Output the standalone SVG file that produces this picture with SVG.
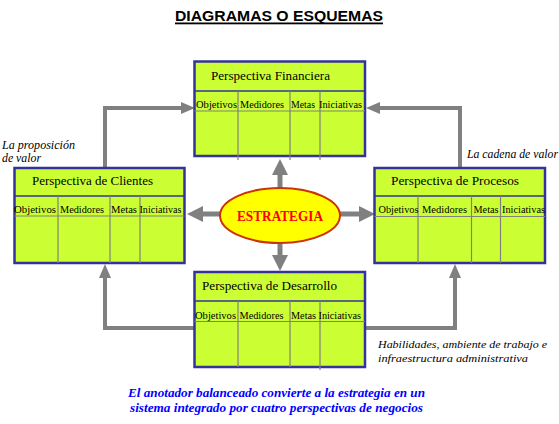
<svg xmlns="http://www.w3.org/2000/svg" width="559" height="424" viewBox="0 0 559 424">
<defs>
<style>
.box{fill:#CCFF33;stroke:#333399;stroke-width:2.5}
.hdr{stroke:#333399;stroke-width:1.5}
.grid{stroke:#808080;stroke-width:1.2}
.ttl{font-family:"Liberation Serif","Times New Roman","DejaVu Serif",serif;font-size:13px;fill:#000}
.col{font-family:"Liberation Serif","Times New Roman","DejaVu Serif",serif;font-size:10.5px;fill:#000}
.lbl{font-family:"Liberation Serif","Times New Roman","DejaVu Serif",serif;font-size:12px;font-style:italic;fill:#000}
.blue{font-family:"Liberation Serif","Times New Roman","DejaVu Serif",serif;font-size:12px;font-style:italic;font-weight:bold;fill:#0000FF}
.conn{fill:none;stroke:#808080;stroke-width:4}
.cen{fill:none;stroke:#808080;stroke-width:5}
</style>
<marker id="ah" markerUnits="userSpaceOnUse" markerWidth="14" markerHeight="12" refX="0" refY="6" orient="auto"><path d="M0,0 L14,6 L0,12 z" fill="#808080"/></marker>
<marker id="ch" markerUnits="userSpaceOnUse" markerWidth="16" markerHeight="16" refX="0" refY="8" orient="auto"><path d="M0,0 L16,8 L0,16 z" fill="#808080"/></marker>
</defs>
<rect width="559" height="424" fill="#fff"/>
<text x="175" y="21" font-family="'Liberation Sans',Arial,sans-serif" font-weight="bold" font-size="14.5" textLength="208" lengthAdjust="spacingAndGlyphs">DIAGRAMAS O ESQUEMAS</text>
<rect x="175" y="22.5" width="208" height="1.8" fill="#000"/>

<g id="connectors">
<path class="conn" d="M105,168 V108 H181" marker-end="url(#ah)"/>
<path class="conn" d="M460,168 V108 H380" marker-end="url(#ah)"/>
<path class="conn" d="M195,328 H105 V278" marker-end="url(#ah)"/>
<path class="conn" d="M365,328 H455 V278" marker-end="url(#ah)"/>
<path class="cen" d="M280,189 V175" marker-end="url(#ch)"/>
<path class="cen" d="M280,242 V255" marker-end="url(#ch)"/>
<path class="cen" d="M221,214 H203" marker-end="url(#ch)"/>
<path class="cen" d="M339,214 H359" marker-end="url(#ch)"/>
</g>

<g id="financiera">
<rect class="box" x="194.5" y="61.5" width="170.5" height="94.5"/>
<line class="hdr" x1="194.5" y1="91" x2="365" y2="91"/>
<line class="grid" x1="194.5" y1="111" x2="365" y2="111"/>
<line class="grid" x1="238" y1="91" x2="238" y2="160"/>
<line class="grid" x1="290" y1="91" x2="290" y2="160"/>
<line class="grid" x1="320" y1="91" x2="320" y2="160"/>
<text class="ttl" x="211" y="80" textLength="119" lengthAdjust="spacingAndGlyphs">Perspectiva Financiera</text>
<text class="col" x="196" y="108" textLength="41" lengthAdjust="spacingAndGlyphs">Objetivos</text>
<text class="col" x="240" y="108" textLength="44" lengthAdjust="spacingAndGlyphs">Medidores</text>
<text class="col" x="291" y="108" textLength="24" lengthAdjust="spacingAndGlyphs">Metas</text>
<text class="col" x="319" y="108" textLength="43" lengthAdjust="spacingAndGlyphs">Iniciativas</text>
</g>

<g id="clientes">
<rect class="box" x="14.5" y="168" width="170" height="95"/>
<line class="hdr" x1="14.5" y1="196" x2="184.5" y2="196"/>
<line class="grid" x1="14.5" y1="216" x2="184.5" y2="216"/>
<line class="grid" x1="58" y1="196" x2="58" y2="263"/>
<line class="grid" x1="110" y1="196" x2="110" y2="263"/>
<line class="grid" x1="140" y1="196" x2="140" y2="263"/>
<text class="ttl" x="32" y="185" textLength="121" lengthAdjust="spacingAndGlyphs">Perspectiva de Clientes</text>
<text class="col" x="14" y="213" textLength="42" lengthAdjust="spacingAndGlyphs">Objetivos</text>
<text class="col" x="60" y="213" textLength="44" lengthAdjust="spacingAndGlyphs">Medidores</text>
<text class="col" x="111" y="213" textLength="26" lengthAdjust="spacingAndGlyphs">Metas</text>
<text class="col" x="139.5" y="213" textLength="42" lengthAdjust="spacingAndGlyphs">Iniciativas</text>
</g>

<g id="procesos">
<rect class="box" x="374.5" y="168" width="170.5" height="95"/>
<line class="hdr" x1="374.5" y1="196" x2="545" y2="196"/>
<line class="grid" x1="374.5" y1="216.5" x2="545" y2="216.5"/>
<line class="grid" x1="418" y1="196" x2="418" y2="263"/>
<line class="grid" x1="471.5" y1="196" x2="471.5" y2="263"/>
<line class="grid" x1="500.5" y1="196" x2="500.5" y2="263"/>
<text class="ttl" x="391" y="185" textLength="128" lengthAdjust="spacingAndGlyphs">Perspectiva de Procesos</text>
<text class="col" x="378.5" y="213" textLength="40" lengthAdjust="spacingAndGlyphs">Objetivos</text>
<text class="col" x="422" y="213" textLength="45" lengthAdjust="spacingAndGlyphs">Medidores</text>
<text class="col" x="473.5" y="213" textLength="25" lengthAdjust="spacingAndGlyphs">Metas</text>
<text class="col" x="502" y="213" textLength="43" lengthAdjust="spacingAndGlyphs">Iniciativas</text>
</g>

<g id="desarrollo">
<rect class="box" x="194.5" y="272" width="170.5" height="95"/>
<line class="hdr" x1="194.5" y1="301" x2="365" y2="301"/>
<line class="grid" x1="194.5" y1="321.5" x2="365" y2="321.5"/>
<line class="grid" x1="238" y1="301" x2="238" y2="367"/>
<line class="grid" x1="290" y1="301" x2="290" y2="367"/>
<line class="grid" x1="320" y1="301" x2="320" y2="370"/>
<text class="ttl" x="202" y="290" textLength="135" lengthAdjust="spacingAndGlyphs">Perspectiva de Desarrollo</text>
<text class="col" x="195" y="318.5" textLength="41" lengthAdjust="spacingAndGlyphs">Objetivos</text>
<text class="col" x="239.5" y="318.5" textLength="44" lengthAdjust="spacingAndGlyphs">Medidores</text>
<text class="col" x="291" y="318.5" textLength="25" lengthAdjust="spacingAndGlyphs">Metas</text>
<text class="col" x="318.5" y="318.5" textLength="42.5" lengthAdjust="spacingAndGlyphs">Iniciativas</text>
</g>

<g id="estrategia">
<ellipse cx="280" cy="215.5" rx="60" ry="27.5" fill="#FFFF00" stroke="#CC3300" stroke-width="2"/>
<text x="237" y="221" font-family="'Liberation Serif','Times New Roman','DejaVu Serif',serif" font-weight="bold" font-size="14" fill="#FF0000" textLength="86" lengthAdjust="spacingAndGlyphs">ESTRATEGIA</text>
</g>

<g id="labels">
<text class="lbl" x="2" y="149" textLength="73" lengthAdjust="spacingAndGlyphs">La proposición</text>
<text class="lbl" x="2" y="162" textLength="39" lengthAdjust="spacingAndGlyphs">de valor</text>
<text class="lbl" x="467" y="158" textLength="91" lengthAdjust="spacingAndGlyphs">La cadena de valor</text>
<text class="lbl" x="378" y="348" style="font-size:11px" textLength="169" lengthAdjust="spacingAndGlyphs">Habilidades, ambiente de trabajo e</text>
<text class="lbl" x="378" y="362" style="font-size:11px" textLength="150" lengthAdjust="spacingAndGlyphs">infraestructura  administrativa</text>
<text class="blue" x="128" y="397" textLength="297" lengthAdjust="spacingAndGlyphs">El anotador balanceado convierte a la estrategia en un</text>
<text class="blue" x="130" y="412" textLength="293" lengthAdjust="spacingAndGlyphs">sistema integrado por cuatro perspectivas de negocios</text>
</g>
</svg>
